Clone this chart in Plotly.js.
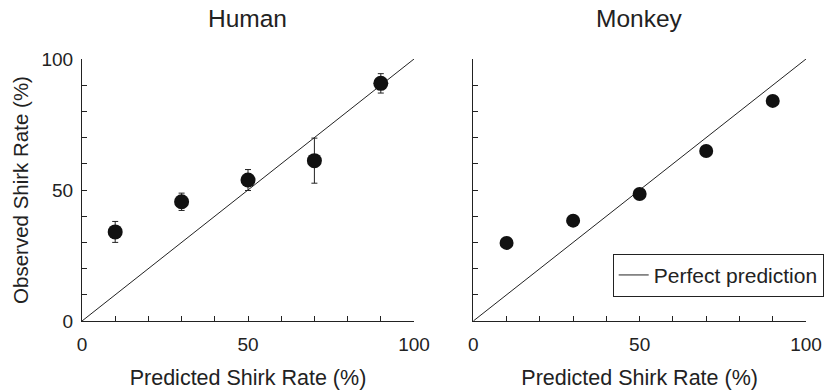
<!DOCTYPE html>
<html>
<head>
<meta charset="utf-8">
<script src="https://cdn.plot.ly/plotly-3.0.1.min.js"></script>
<style>html,body{margin:0;padding:0;background:#fff;}#chart{width:824px;height:392px;}</style>
</head>
<body>
<div id="chart"></div>
<script>
// Data
const predicted = [10, 30, 50, 70, 90];
const humanObserved = [34, 45.5, 53.8, 61.2, 90.7];
const humanError = [4, 3.3, 4, 8.6, 3.7];
const monkeyObserved = [29.8, 38.3, 48.5, 64.9, 84.0];
const perfectLine = [0, 100];
const panelTitles = ["Human", "Monkey"];
const tickVals = [0, 10, 20, 30, 40, 50, 60, 70, 80, 90, 100];
const tickTexts = ["0", "", "", "", "", "50", "", "", "", "", "100"];
const emptyTexts = tickVals.map(() => "");

const ink = "#222";
const fontFam = "Liberation Sans, Arial, sans-serif";

const traces = [
  {
    x: perfectLine, y: perfectLine, xaxis: "x", yaxis: "y",
    mode: "lines", line: {color: ink, width: 1},
    name: "Perfect prediction", showlegend: false, hoverinfo: "skip"
  },
  {
    x: predicted, y: humanObserved, xaxis: "x", yaxis: "y",
    mode: "markers", marker: {color: "#111", size: 15},
    error_y: {type: "data", array: humanError, visible: true, color: ink, thickness: 1, width: 3},
    showlegend: false
  },
  {
    x: perfectLine, y: perfectLine, xaxis: "x2", yaxis: "y2",
    mode: "lines", line: {color: ink, width: 1},
    name: "Perfect prediction", showlegend: true, hoverinfo: "skip"
  },
  {
    x: predicted, y: monkeyObserved, xaxis: "x2", yaxis: "y2",
    mode: "markers", marker: {color: "#111", size: 14},
    showlegend: false
  }
];

function axisBase(extra) {
  return Object.assign({
    range: [0, 100], showline: true, linecolor: ink, linewidth: 1,
    ticks: "inside", ticklen: 5, tickwidth: 1, tickcolor: ink,
    tickmode: "array", tickvals: tickVals,
    showgrid: false, zeroline: false, mirror: false,
    tickfont: {family: fontFam, size: 19, color: ink}
  }, extra);
}

const yDom = [(392 - 321) / 392, (392 - 59) / 392];
const titleFont = {family: fontFam, size: 21.5, color: ink};
const panelFont = {family: fontFam, size: 24.5, color: ink};

const layout = {
  width: 824, height: 392,
  margin: {l: 0, r: 0, t: 0, b: 0, autoexpand: false},
  paper_bgcolor: "#fff", plot_bgcolor: "#fff",
  font: {family: fontFam, color: ink},
  xaxis: axisBase({domain: [82 / 824, 414 / 824], anchor: "y", ticktext: tickTexts, ticklabelstandoff: 6,
    title: {text: "Predicted Shirk Rate (%)", font: titleFont, standoff: 16}}),
  yaxis: axisBase({domain: yDom, anchor: "x", ticktext: tickTexts, ticklabelstandoff: 4,
    title: {text: "Observed Shirk Rate (%)", font: {family: fontFam, size: 20.5, color: ink}, standoff: 7}}),
  xaxis2: axisBase({domain: [473.3 / 824, 806 / 824], anchor: "y2", ticktext: tickTexts, ticklabelstandoff: 6,
    title: {text: "Predicted Shirk Rate (%)", font: titleFont, standoff: 16}}),
  yaxis2: axisBase({domain: yDom, anchor: "x2", ticktext: emptyTexts}),
  annotations: [
    {text: panelTitles[0], xref: "paper", yref: "paper", x: 248 / 824, y: (392 - 18) / 392,
     xanchor: "center", yanchor: "middle", showarrow: false, font: panelFont},
    {text: panelTitles[1], xref: "paper", yref: "paper", x: 639.5 / 824, y: (392 - 18) / 392,
     xanchor: "center", yanchor: "middle", showarrow: false, font: panelFont}
  ],
  legend: {
    x: 612.7 / 824, y: (392 - 275.3) / 392, xanchor: "left", yanchor: "middle",
    bordercolor: ink, borderwidth: 1, bgcolor: "#fff",
    font: {family: fontFam, size: 21, color: ink}, itemwidth: 30
  },
  showlegend: true
};

Plotly.newPlot("chart", traces, layout, {displayModeBar: false, staticPlot: true});
</script>
</body>
</html>
